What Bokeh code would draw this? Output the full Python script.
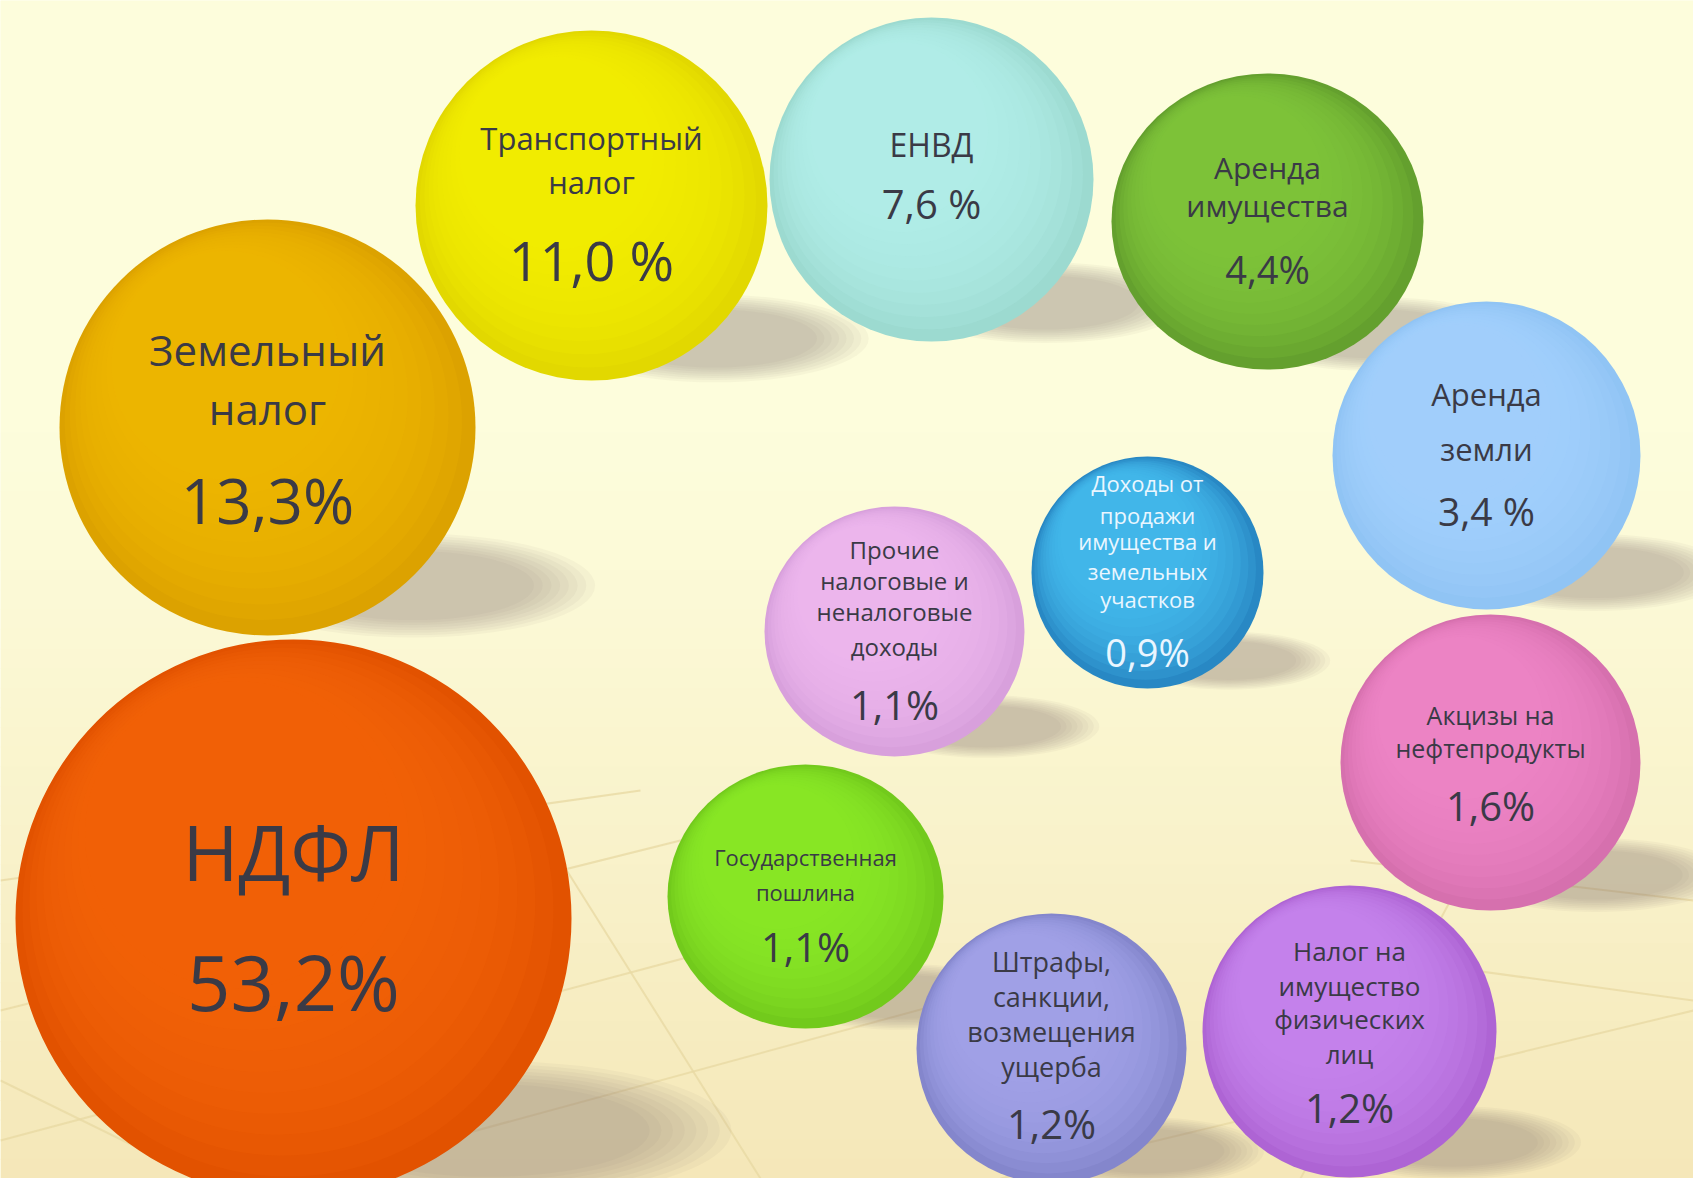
from bokeh.plotting import figure
from bokeh.models import Range1d, ColumnDataSource
from bokeh.embed import file_html
from bokeh.resources import INLINE
from bokeh.core.properties import value

# ---------------- data ----------------
categories = [
    "НДФЛ", "Земельный налог", "Транспортный налог", "ЕНВД",
    "Аренда имущества", "Аренда земли", "Акцизы на нефтепродукты",
    "Налог на имущество физических лиц", "Штрафы, санкции, возмещения ущерба",
    "Государственная пошлина", "Прочие налоговые и неналоговые доходы",
    "Доходы от продажи имущества и земельных участков",
]
shares = [53.2, 13.3, 11.0, 7.6, 4.4, 3.4, 1.6, 1.2, 1.2, 1.1, 1.1, 0.9]
share_labels = ["53,2%", "13,3%", "11,0 %", "7,6 %", "4,4%", "3,4 %",
                "1,6%", "1,2%", "1,2%", "1,1%", "1,1%", "0,9%"]
label_lines = [
    ["НДФЛ"],
    ["Земельный", "налог"],
    ["Транспортный", "налог"],
    ["ЕНВД"],
    ["Аренда", "имущества"],
    ["Аренда", "земли"],
    ["Акцизы на", "нефтепродукты"],
    ["Налог на", "имущество", "физических", "лиц"],
    ["Штрафы,", "санкции,", "возмещения", "ущерба"],
    ["Государственная", "пошлина"],
    ["Прочие", "налоговые и", "неналоговые", "доходы"],
    ["Доходы от", "продажи", "имущества и", "земельных", "участков"],
]

# ---------------- layout (page pixels) ----------------
cx = [293, 267, 591, 931, 1267, 1486, 1490, 1349, 1051, 805, 894, 1147]
cy = [918, 427, 205, 179, 221, 455, 762, 1031, 1048, 896, 631, 572]
rx = [278, 208, 176, 162, 156, 154, 150, 147, 135, 138, 130, 116]
ry = [279, 208, 175, 162, 148, 154, 148, 146, 135, 132, 125, 116]
line_y = [
    [851],
    [349, 408],
    [137, 181],
    [144],
    [167, 205],
    [393, 448],
    [714, 747],
    [950, 985, 1018, 1053],
    [961, 996, 1031, 1066],
    [856, 891],
    [549, 580, 611, 646],
    [482, 514, 540, 570, 598],
]
label_size = [76, 42, 31, 32, 30, 31, 25, 26, 27, 22, 24, 22]
pct_y = [981, 499, 259, 203, 268, 510, 805, 1107, 1123, 946, 704, 651]
pct_size = [76, 62, 54, 40, 38, 39, 40, 40, 40, 40, 40, 38]
light = ["#F56208", "#F2BA00", "#F4F200", "#B4F2EA", "#82C63E", "#A4D2FF",
         "#EE88C6", "#C985EE", "#A3A4EC", "#8CEC28", "#EEB8F0", "#48BCEE"]
dark = ["#E25200", "#DCA200", "#E2D800", "#9CDAD0", "#64A02E", "#90C4F4",
        "#D670AE", "#AE64D4", "#8486CC", "#72CA1C", "#D8A0DC", "#2888C4"]
text_col = ["#3A3A46"] * 11 + ["#EAF6FF"]

W, H = 1693, 1178
p = figure(width=W, height=H, x_range=Range1d(0, W), y_range=Range1d(H, 0),
           output_backend="svg", toolbar_location=None, min_border=0,
           background_fill_color="#FDFDDC", border_fill_color="#FDFDDC")
p.axis.visible = False
p.grid.visible = False
p.outline_line_color = None

# ---------------- background gradient ----------------
def mix(c1, c2, t):
    a = [int(c1[i:i + 2], 16) for i in (1, 3, 5)]
    b = [int(c2[i:i + 2], 16) for i in (1, 3, 5)]
    return "#%02x%02x%02x" % tuple(int(a[k] + (b[k] - a[k]) * t) for k in range(3))

nb = 60
tops, bots, cols = [], [], []
for i in range(nb):
    y0 = H * i / nb
    y1 = H * (i + 1) / nb
    t = max(0.0, (y0 - 420) / (H - 420))
    tops.append(y0)
    bots.append(y1 + 1)
    cols.append(mix("#FDFDDC", "#F5E7B8", t ** 1.2))
p.quad(left=0, right=W, top=tops, bottom=bots, fill_color=cols, line_color=None)

# faint floor lines (perspective)
floor_lines = [
    ((0, 1010), (760, 820)), ((0, 1140), (900, 900)), ((300, 1178), (1100, 960)),
    ((0, 880), (640, 790)), ((1000, 1178), (1693, 1010)), ((1350, 860), (1693, 900)),
    ((1400, 960), (1693, 1000)), ((60, 920), (330, 1178)), ((560, 860), (760, 1178)),
    ((1450, 900), (1300, 1178)), ((0, 1080), (200, 1178)),
]
p.multi_line(xs=[[a[0], b[0]] for a, b in floor_lines],
             ys=[[a[1], b[1]] for a, b in floor_lines],
             line_color="#E9D9A4", line_width=2, line_alpha=0.8)

# ---------------- shadows ----------------
for k in range(8):
    f = 1.25 - 0.06 * k
    p.ellipse(x=[c + 0.70 * r for c, r in zip(cx, rx)],
              y=[c + 0.76 * r for c, r in zip(cy, ry)],
              width=[1.40 * r * f for r in rx], height=[0.40 * r * f for r in ry],
              fill_color="#77766A", fill_alpha=0.055, line_color=None)

# ---------------- bubbles ----------------
p.ellipse(x=cx, y=cy, width=[2 * r for r in rx], height=[2 * r for r in ry],
          fill_color=dark, line_color=None)
for k in range(1, 11):
    s = 1 - 0.045 * k
    p.ellipse(x=[c - 0.02 * k * r for c, r in zip(cx, rx)],
              y=[c - 0.03 * k * r for c, r in zip(cy, ry)],
              width=[2 * r * s for r in rx], height=[2 * r * s for r in ry],
              fill_color=light, fill_alpha=0.2, line_color=None)

# ---------------- texts ----------------
tx, ty, tt, tf, tc = [], [], [], [], []
for i in range(len(categories)):
    for ln, yy in zip(label_lines[i], line_y[i]):
        tx.append(cx[i]); ty.append(yy); tt.append(ln)
        tf.append("%dpx" % label_size[i]); tc.append(text_col[i])
    tx.append(cx[i]); ty.append(pct_y[i]); tt.append(share_labels[i])
    tf.append("%dpx" % pct_size[i]); tc.append(text_col[i])
src = ColumnDataSource(dict(x=tx, y=ty, text=tt, fs=tf, col=tc))
p.text(x="x", y="y", text="text", source=src, text_align="center",
       text_baseline="middle", text_font=value("Open Sans"),
       text_font_size="fs", text_color="col")

open("out.html", "w").write(file_html(p, INLINE))
